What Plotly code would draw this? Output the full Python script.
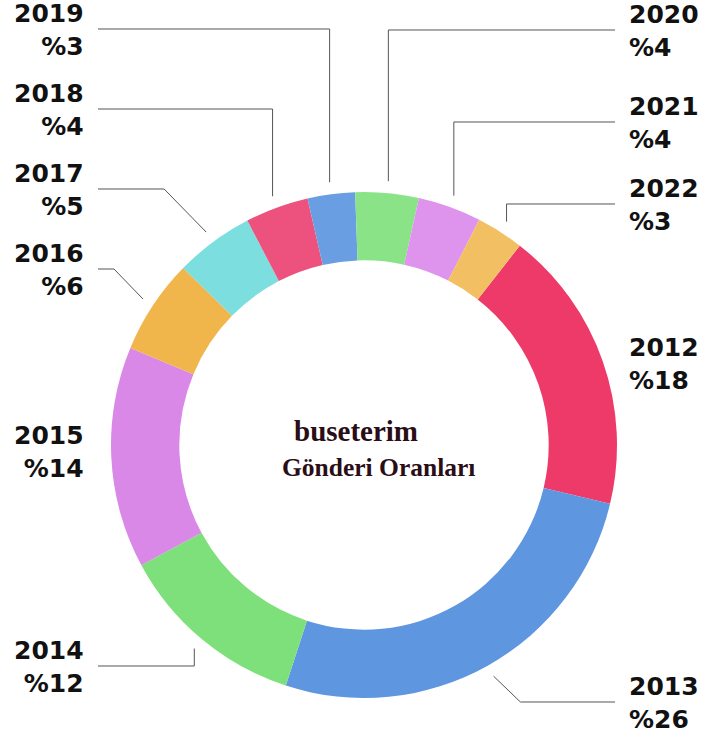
import math
import plotly.graph_objects as go

# ---- data ----
years = ["2012", "2013", "2014", "2015", "2016", "2017", "2018", "2019", "2020", "2021", "2022"]
shares = [18, 26, 12, 14, 6, 5, 4, 3, 4, 4, 3]
colors = ["#EE3A69", "#5E96E0", "#7EE07A", "#D988E8", "#F0B64C", "#7CDEDE",
          "#ED527E", "#6A9EE2", "#8AE487", "#DE94EC", "#F2C062"]
center_title = "buseterim"
center_subtitle = "Gönderi Oranları"

# ---- layout constants (pixels) ----
W, H = 703, 736
CX, CY, R = 364, 445, 253
HOLE = 0.73
ROTATION = 38.0
GAP = 12
LEFT_TEXT_X, RIGHT_TEXT_X = 86, 627
LEFT_LINE_X, RIGHT_LINE_X = 98, 615
label_y = {"2012": 364, "2013": 703, "2014": 667, "2015": 452, "2016": 270, "2017": 190,
           "2018": 110, "2019": 30, "2020": 31, "2021": 123, "2022": 205}
line_style = {"2012": None, "2013": "diag", "2014": "vert", "2015": None, "2016": "diag",
              "2017": "diag", "2018": "vert", "2019": "vert", "2020": "vert",
              "2021": "vert", "2022": "vert"}


def px(x):
    return x / W


def py(y):
    return 1 - y / H


fig = go.Figure()
fig.add_trace(go.Pie(
    labels=years, values=shares, sort=False, direction="clockwise", rotation=ROTATION,
    hole=HOLE, marker=dict(colors=colors, line=dict(width=0)),
    textinfo="none", hoverinfo="label+percent", showlegend=False,
    domain=dict(x=[px(CX - R), px(CX + R)], y=[py(CY + R), py(CY - R)]),
))

total = sum(shares)
cum = 0.0
shapes = []
annotations = []
for yr, v in zip(years, shares):
    mid = ROTATION + (cum + v / 2) / total * 360
    cum += v
    a = math.radians(mid)
    sx, sy = math.sin(a), -math.cos(a)
    right = sx > 0
    ly = label_y[yr]
    pxx, pyy = CX + (R + GAP) * sx, CY + (R + GAP) * sy
    style = line_style[yr]
    end_x = RIGHT_LINE_X if right else LEFT_LINE_X
    if style == "vert":
        pts = [(pxx, pyy), (pxx, ly - 1), (end_x, ly - 1)]
    elif style == "diag":
        d = abs(ly - pyy)
        kx = pxx + d if right else pxx - d
        pts = [(pxx, pyy), (kx, ly - 1), (end_x, ly - 1)]
    else:
        pts = None
    if pts:
        path = "M " + " L ".join(f"{px(x):.5f},{py(y):.5f}" for x, y in pts)
        shapes.append(dict(type="path", path=path, xref="paper", yref="paper",
                           line=dict(color="#555555", width=1)))
    annotations.append(dict(
        text=f"{yr}<br>%{v}", x=px(RIGHT_TEXT_X if right else LEFT_TEXT_X), y=py(ly),
        xref="paper", yref="paper", xanchor="left" if right else "right", yanchor="middle",
        align="left" if right else "right", showarrow=False,
        font=dict(family="DejaVu Sans", size=25, color="#111111", weight="bold"),
    ))

annotations.append(dict(
    text=center_title, x=px(356), y=py(431),
    xref="paper", yref="paper", xanchor="center", yanchor="middle", showarrow=False,
    font=dict(family="Liberation Serif", size=29, color="#2A0D16", weight="bold"),
))
annotations.append(dict(
    text=center_subtitle, x=px(378), y=py(467),
    xref="paper", yref="paper", xanchor="center", yanchor="middle", showarrow=False,
    font=dict(family="Liberation Serif", size=25.5, color="#2A0D16", weight="bold"),
))

fig.update_layout(
    width=W, height=H, margin=dict(l=0, r=0, t=0, b=0),
    paper_bgcolor="white", plot_bgcolor="white",
    shapes=shapes, annotations=annotations,
)
fig.write_html("out.html", config={"displayModeBar": False},
               post_script="document.body.style.margin='0';document.body.style.overflow='hidden';")
